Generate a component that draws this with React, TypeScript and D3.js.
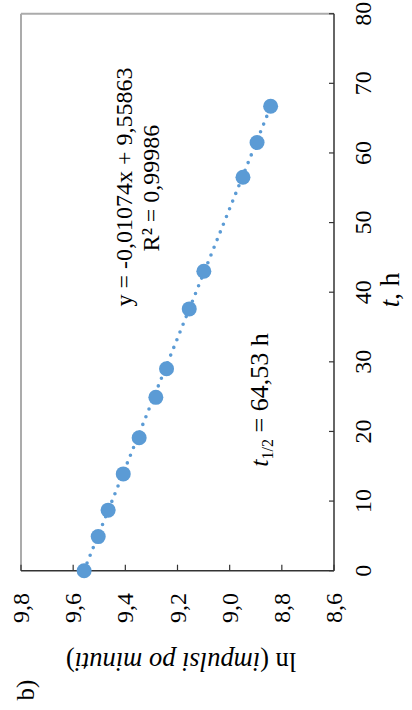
import React from "react";
import * as d3 from "d3";

const timeH = [0, 4.9, 8.7, 13.9, 19.1, 24.9, 29.0, 37.6, 43.0, 56.5, 61.5, 66.7];
const lnRate = [9.558, 9.504, 9.466, 9.408, 9.347, 9.283, 9.242, 9.155, 9.099, 8.949, 8.895, 8.843];
const tTicks = [0, 10, 20, 30, 40, 50, 60, 70, 80];
const lnTicks = [9.8, 9.6, 9.4, 9.2, 9.0, 8.8, 8.6];
const slope = -0.01074;
const intercept = 9.55863;

const BLUE = "#5B9BD5";
const FONT = "'Liberation Serif', 'Times New Roman', serif";

export default function App() {
  const tScale = d3.scaleLinear().domain([0, 80]).range([570.7, 13.7]);
  const lnScale = d3.scaleLinear().domain([8.6, 9.8]).range([334, 21]);
  const fmt = (v: number) => v.toFixed(1).replace(".", ",");

  const tMax = d3.max(timeH) as number;
  const trend = d3
    .line<number>()
    .x((t) => lnScale(intercept + slope * t))
    .y((t) => tScale(t));

  const x0 = lnScale(9.8);
  const x1 = lnScale(8.6);
  const y0 = tScale(0);
  const y1 = tScale(80);

  return (
    <svg
      width={412}
      height={710}
      style={{ position: "absolute", left: 0, top: 0, background: "#fff" }}
      fontFamily={FONT}
    >
      {/* plot frame (gray) */}
      <line x1={x0} y1={y1} x2={x1} y2={y1} stroke="#ABABAB" strokeWidth={2} />
      <line x1={x0} y1={y1} x2={x0} y2={y0} stroke="#ABABAB" strokeWidth={2} />

      {/* t axis (right side) */}
      <line x1={x1} y1={y1} x2={x1} y2={y0} stroke="#333" strokeWidth={1.5} />
      {tTicks.map((t) => (
        <g key={"t" + t}>
          <line x1={x1 - 5} x2={x1} y1={tScale(t)} y2={tScale(t)} stroke="#333" strokeWidth={1.2} />
          <text
            transform={`translate(${371},${tScale(t)}) rotate(-90)`}
            textAnchor="middle"
            fontSize={24}
            fill="#000"
          >
            {t}
          </text>
        </g>
      ))}
      <text
        transform={`translate(${399},${290}) rotate(-90)`}
        textAnchor="middle"
        fontSize={27}
        fill="#000"
      >
        <tspan fontStyle="italic">t</tspan>, h
      </text>

      {/* ln axis (bottom) */}
      <line x1={x0} y1={y0} x2={x1} y2={y0} stroke="#333" strokeWidth={1.5} />
      {lnTicks.map((v) => (
        <g key={"l" + v}>
          <line x1={lnScale(v)} x2={lnScale(v)} y1={y0 - 6} y2={y0} stroke="#333" strokeWidth={1.2} />
          <text
            transform={`translate(${lnScale(v) + 8},${593}) rotate(-90)`}
            textAnchor="end"
            fontSize={24}
            fill="#000"
          >
            {fmt(v)}
          </text>
        </g>
      ))}
      <text
        transform={`translate(${181},${653}) rotate(180)`}
        textAnchor="middle"
        fontSize={26.5}
        fill="#000"
      >
        ln (<tspan fontStyle="italic">impulsi po minuti</tspan>)
      </text>

      <text transform={`translate(${34},${690}) rotate(-90)`} textAnchor="middle" fontSize={25} fill="#000">
        b)
      </text>

      {/* trend line */}
      <path
        d={trend([0, tMax]) || ""}
        fill="none"
        stroke={BLUE}
        strokeWidth={3.6}
        strokeLinecap="round"
        strokeDasharray="0 8.3"
      />

      {/* markers */}
      {timeH.map((t, i) => (
        <circle key={i} cx={lnScale(lnRate[i])} cy={tScale(t)} r={7.5} fill={BLUE} />
      ))}

      {/* annotations */}
      <text transform={`translate(${132},${187}) rotate(-90)`} textAnchor="middle" fontSize={24} fill="#000">
        y = -0,01074x + 9,55863
      </text>
      <text transform={`translate(${159},${188}) rotate(-90)`} textAnchor="middle" fontSize={24} fill="#000">
        R² = 0,99986
      </text>
      <text transform={`translate(${268},${400}) rotate(-90)`} textAnchor="middle" fontSize={26} fill="#000">
        <tspan fontStyle="italic">t</tspan>
        <tspan fontSize={16} dy={5}>1/2</tspan>
        <tspan dy={-5}> = 64,53 h</tspan>
      </text>
    </svg>
  );
}
